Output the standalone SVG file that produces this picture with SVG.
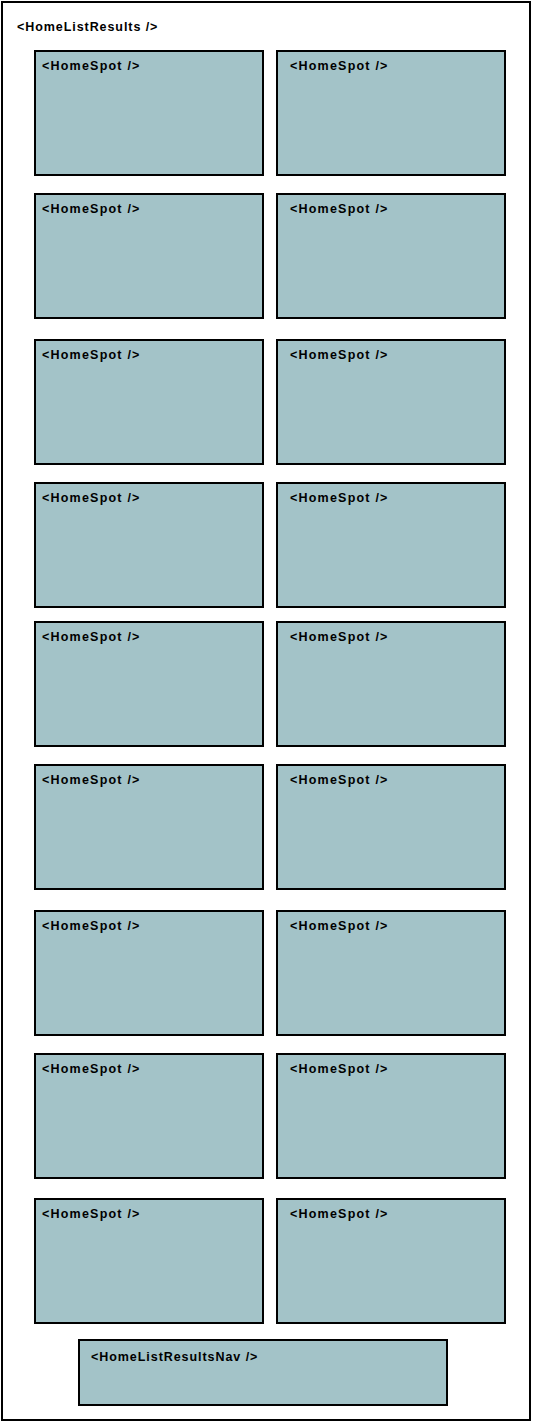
<svg xmlns="http://www.w3.org/2000/svg" width="533" height="1424" viewBox="0 0 533 1424">
<style>
.frame{fill:#ffffff;stroke:#000;stroke-width:2}
.box{fill:#a3c3c8;stroke:#000;stroke-width:2}
.lbl{font-family:"Liberation Sans",Arial,sans-serif;font-weight:bold;font-size:12.5px;fill:#000;letter-spacing:0.6px}
</style>
<rect width="533" height="1424" fill="#ffffff"/>
<g id="HomeListResults">
<rect class="frame" x="2" y="2" width="528" height="1418"/>
<text class="lbl" x="17" y="31" textLength="141">&lt;HomeListResults /&gt;</text>
</g>
<g id="spot-1-1"><rect class="box" x="35" y="51" width="228" height="124"/><text class="lbl" x="42" y="70" textLength="98">&lt;HomeSpot /&gt;</text></g>
<g id="spot-1-2"><rect class="box" x="277" y="51" width="228" height="124"/><text class="lbl" x="290" y="70" textLength="98">&lt;HomeSpot /&gt;</text></g>
<g id="spot-2-1"><rect class="box" x="35" y="194" width="228" height="124"/><text class="lbl" x="42" y="213" textLength="98">&lt;HomeSpot /&gt;</text></g>
<g id="spot-2-2"><rect class="box" x="277" y="194" width="228" height="124"/><text class="lbl" x="290" y="213" textLength="98">&lt;HomeSpot /&gt;</text></g>
<g id="spot-3-1"><rect class="box" x="35" y="340" width="228" height="124"/><text class="lbl" x="42" y="359" textLength="98">&lt;HomeSpot /&gt;</text></g>
<g id="spot-3-2"><rect class="box" x="277" y="340" width="228" height="124"/><text class="lbl" x="290" y="359" textLength="98">&lt;HomeSpot /&gt;</text></g>
<g id="spot-4-1"><rect class="box" x="35" y="483" width="228" height="124"/><text class="lbl" x="42" y="502" textLength="98">&lt;HomeSpot /&gt;</text></g>
<g id="spot-4-2"><rect class="box" x="277" y="483" width="228" height="124"/><text class="lbl" x="290" y="502" textLength="98">&lt;HomeSpot /&gt;</text></g>
<g id="spot-5-1"><rect class="box" x="35" y="622" width="228" height="124"/><text class="lbl" x="42" y="641" textLength="98">&lt;HomeSpot /&gt;</text></g>
<g id="spot-5-2"><rect class="box" x="277" y="622" width="228" height="124"/><text class="lbl" x="290" y="641" textLength="98">&lt;HomeSpot /&gt;</text></g>
<g id="spot-6-1"><rect class="box" x="35" y="765" width="228" height="124"/><text class="lbl" x="42" y="784" textLength="98">&lt;HomeSpot /&gt;</text></g>
<g id="spot-6-2"><rect class="box" x="277" y="765" width="228" height="124"/><text class="lbl" x="290" y="784" textLength="98">&lt;HomeSpot /&gt;</text></g>
<g id="spot-7-1"><rect class="box" x="35" y="911" width="228" height="124"/><text class="lbl" x="42" y="930" textLength="98">&lt;HomeSpot /&gt;</text></g>
<g id="spot-7-2"><rect class="box" x="277" y="911" width="228" height="124"/><text class="lbl" x="290" y="930" textLength="98">&lt;HomeSpot /&gt;</text></g>
<g id="spot-8-1"><rect class="box" x="35" y="1054" width="228" height="124"/><text class="lbl" x="42" y="1073" textLength="98">&lt;HomeSpot /&gt;</text></g>
<g id="spot-8-2"><rect class="box" x="277" y="1054" width="228" height="124"/><text class="lbl" x="290" y="1073" textLength="98">&lt;HomeSpot /&gt;</text></g>
<g id="spot-9-1"><rect class="box" x="35" y="1199" width="228" height="124"/><text class="lbl" x="42" y="1218" textLength="98">&lt;HomeSpot /&gt;</text></g>
<g id="spot-9-2"><rect class="box" x="277" y="1199" width="228" height="124"/><text class="lbl" x="290" y="1218" textLength="98">&lt;HomeSpot /&gt;</text></g>
<g id="HomeListResultsNav"><rect class="box" x="79" y="1340" width="368" height="65"/><text class="lbl" x="91" y="1361" textLength="167">&lt;HomeListResultsNav /&gt;</text></g>
<g id="connectors"/>
</svg>
